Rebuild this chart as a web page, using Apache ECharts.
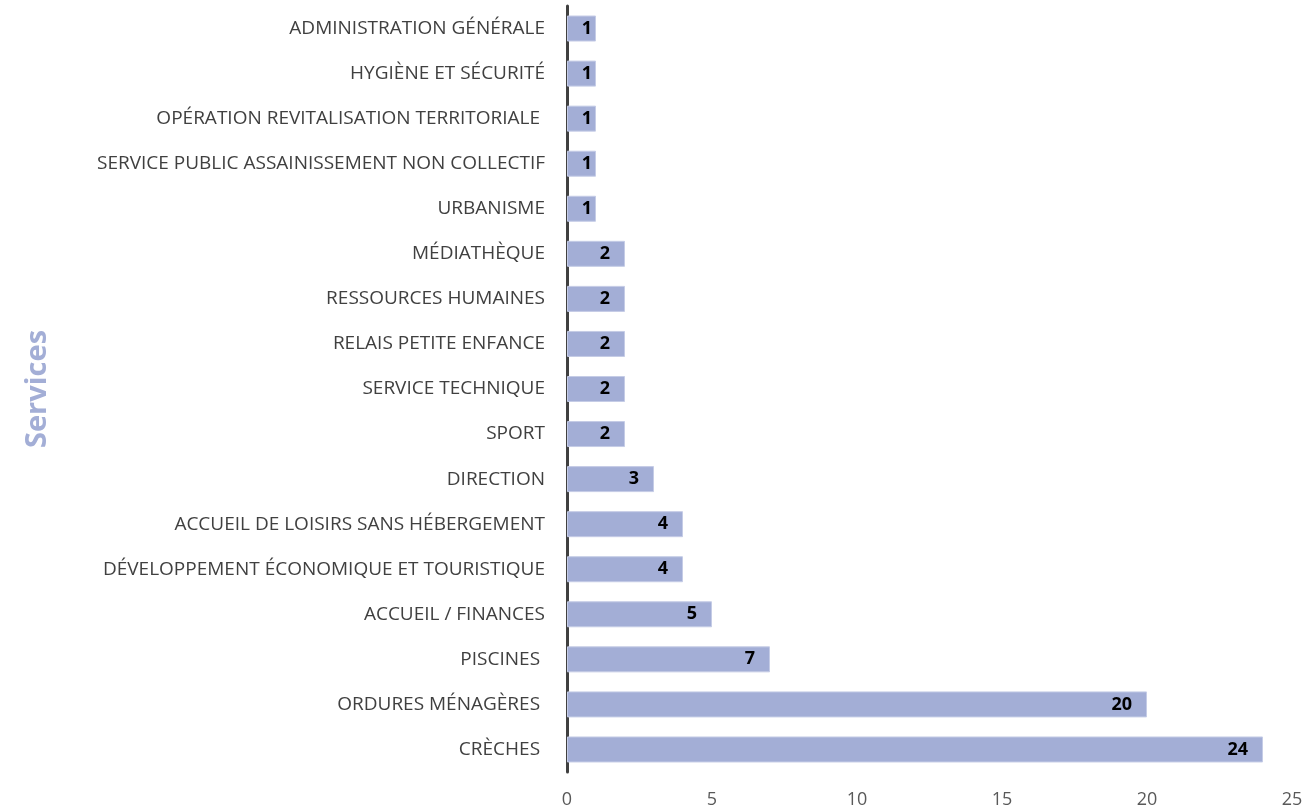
<!DOCTYPE html>
<html><head><meta charset="utf-8">
<script src="https://cdn.jsdelivr.net/npm/echarts@6/dist/echarts.min.js"></script>
<style>html,body{margin:0;padding:0;background:#fff}#c{width:1309px;height:811px}</style>
</head><body><div id="c"></div>
<script>
const categories = [
  "ADMINISTRATION GÉNÉRALE",
  "HYGIÈNE ET SÉCURITÉ",
  "OPÉRATION REVITALISATION TERRITORIALE ",
  "SERVICE PUBLIC ASSAINISSEMENT NON COLLECTIF",
  "URBANISME",
  "MÉDIATHÈQUE",
  "RESSOURCES HUMAINES",
  "RELAIS PETITE ENFANCE",
  "SERVICE TECHNIQUE",
  "SPORT",
  "DIRECTION",
  "ACCUEIL DE LOISIRS SANS HÉBERGEMENT",
  "DÉVELOPPEMENT ÉCONOMIQUE ET TOURISTIQUE",
  "ACCUEIL / FINANCES",
  "PISCINES ",
  "ORDURES MÉNAGÈRES ",
  "CRÈCHES "
];
const values = [1,1,1,1,1,2,2,2,2,2,3,4,4,5,7,20,24];
const axisName = "Services";

const seriesData = values.map(v => v <= 1 ? {value: v, label: {distance: 4}} : v);

const chart = echarts.init(document.getElementById('c'), null, {renderer:'canvas'});
chart.setOption({
  animation:false,
  grid:{left:567, right:17, top:6, bottom:39, containLabel:false},
  xAxis:{type:'value', min:0, max:25, interval:5,
    axisLine:{show:false}, axisTick:{show:false}, splitLine:{show:false},
    axisLabel:{color:'#595959', fontSize:18, fontFamily:'Open Sans', margin:19}},
  yAxis:{type:'category', data:categories, inverse:true,
    name:axisName, nameLocation:'middle', nameGap:515, nameRotate:90,
    nameTextStyle:{color:'#a3aed6', fontSize:29, fontWeight:'bold', fontFamily:'Open Sans'},
    axisLine:{show:true, lineStyle:{color:'#404040', width:3}},
    axisTick:{show:false},
    axisLabel:{color:'#404040', fontSize:19, fontFamily:'Open Sans', margin:22}},
  series:[{type:'bar', data:seriesData, barWidth:26,
    itemStyle:{color:'#a3aed6', borderColor:'#c5cce6', borderWidth:1},
    label:{show:true, position:'insideRight', color:'#000', fontWeight:'bold', fontSize:18, fontFamily:'Open Sans', distance:15}}]
});
</script></body></html>
